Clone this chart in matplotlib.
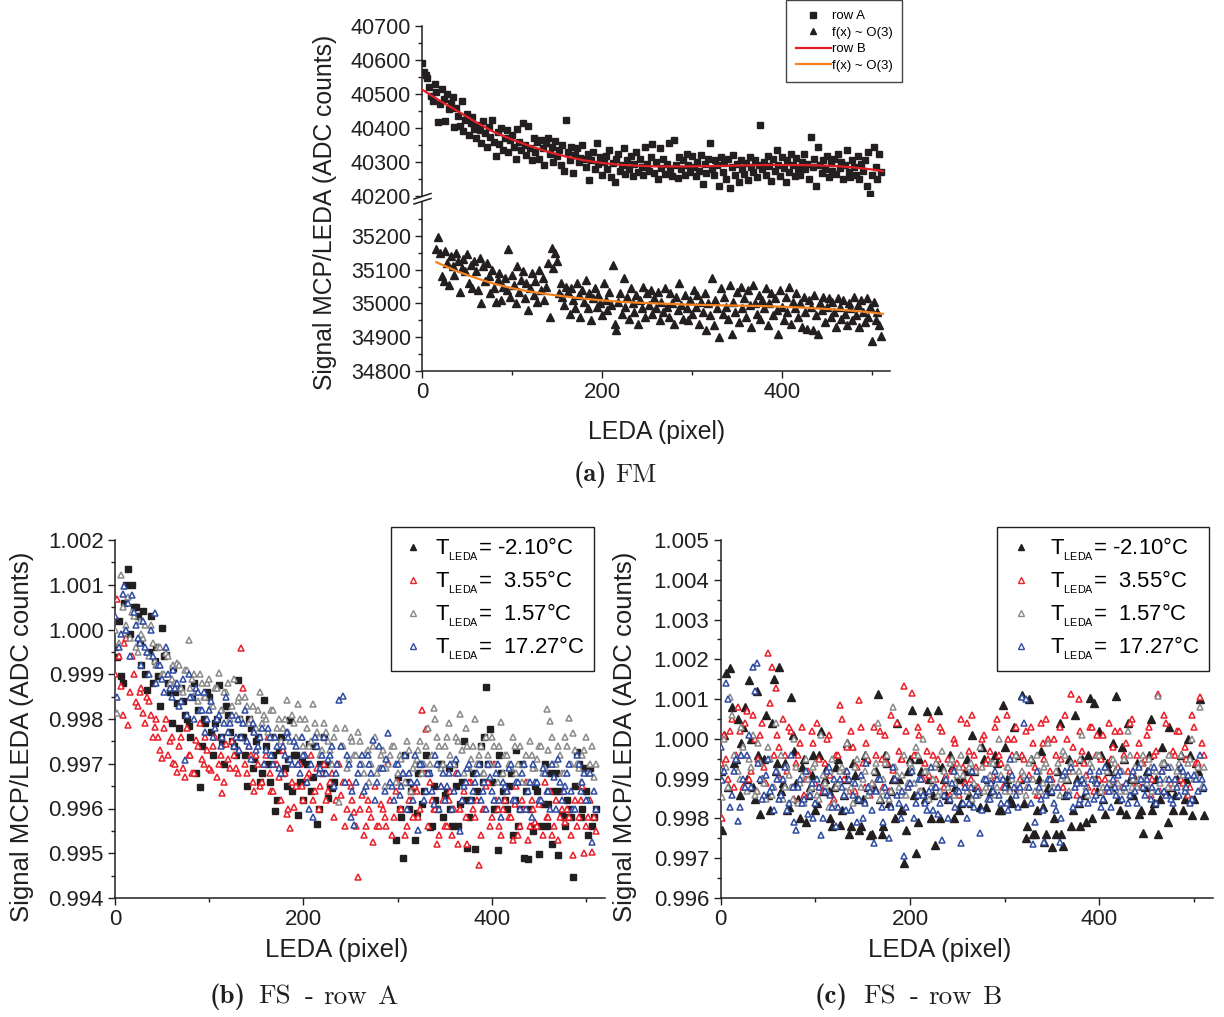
import numpy as np
import matplotlib
matplotlib.use('Agg')
import matplotlib.pyplot as plt
from matplotlib.lines import Line2D
from matplotlib.ticker import MultipleLocator, FixedLocator, FormatStrFormatter

plt.rcParams['font.family'] = ['Liberation Sans', 'DejaVu Sans']
plt.rcParams['mathtext.fontset'] = 'custom'
plt.rcParams['mathtext.rm'] = 'Liberation Sans'
plt.rcParams['mathtext.it'] = 'Liberation Sans:italic'
plt.rcParams['mathtext.bf'] = 'Liberation Sans:bold'

# ---------------- data: panel (a) FM ----------------
x_row_a = np.arange(0, 512, 2)
row_a = [
    40590, 40565, 40555, 40548, 40520, 40495, 40480, 40530, 40505, 40418,
    40470, 40515, 40485, 40420, 40500, 40455, 40475, 40490, 40402, 40460,
    40435, 40405, 40478, 40390, 40425, 40440, 40380, 40415, 40432, 40398,
    40370, 40410, 40395, 40355, 40420, 40385, 40345, 40402, 40375, 40425,
    40360, 40318, 40388, 40352, 40400, 40335, 40372, 40395, 40330, 40365,
    40380, 40345, 40310, 40398, 40360, 40335, 40415, 40350, 40322, 40405,
    40340, 40305, 40372, 40330, 40358, 40310, 40365, 40340, 40290, 40355,
    40370, 40325, 40345, 40300, 40362, 40318, 40335, 40290, 40350, 40275,
    40425, 40330, 40305, 40345, 40268, 40322, 40340, 40300, 40312, 40350,
    40310, 40285, 40325, 40248, 40305, 40330, 40278, 40355, 40295, 40315,
    40262, 40300, 40318, 40280, 40335, 40255, 40298, 40240, 40310, 40325,
    40275, 40292, 40340, 40265, 40305, 40280, 40318, 40258, 40295, 40330,
    40270, 40310, 40285, 40262, 40345, 40295, 40275, 40315, 40352, 40268,
    40300, 40250, 40340, 40282, 40310, 40265, 40295, 40355, 40278, 40260,
    40365, 40290, 40252, 40315, 40280, 40305, 40262, 40325, 40290, 40272,
    40318, 40285, 40258, 40300, 40275, 40320, 40235, 40295, 40268, 40310,
    40355, 40280, 40262, 40305, 40290, 40228, 40315, 40272, 40298, 40250,
    40310, 40225, 40285, 40320, 40262, 40295, 40240, 40305, 40278, 40265,
    40298, 40248, 40315, 40285, 40270, 40305, 40255, 40290, 40410, 40280,
    40300, 40262, 40318, 40288, 40245, 40310, 40275, 40335, 40292, 40260,
    40315, 40282, 40240, 40305, 40270, 40325, 40290, 40258, 40312, 40280,
    40262, 40300, 40325, 40278, 40295, 40250, 40375, 40285, 40310, 40230,
    40345, 40290, 40268, 40305, 40280, 40318, 40255, 40298, 40275, 40310,
    40265, 40325, 40282, 40300, 40250, 40290, 40335, 40270, 40255, 40305,
    40285, 40262, 40318, 40250, 40295, 40275, 40305, 40230, 40328, 40205,
    40262, 40345, 40285, 40250, 40325, 40270,
]
x_row_b = np.arange(16, 512, 2)
row_b = [
    35160, 35195, 35150, 35080, 35065, 35155, 35120, 35055, 35140, 35110,
    35085, 35150, 35125, 35035, 35105, 35130, 35095, 35145, 35060, 35115,
    35045, 35125, 35095, 35040, 35135, 35000, 35110, 35065, 35120, 35080,
    35030, 35100, 35045, 35005, 35070, 35090, 35010, 35050, 35075, 35040,
    35160, 35020, 35085, 35055, 35000, 35110, 35035, 35070, 35095, 35015,
    35060, 34980, 35045, 35090, 35025, 35065, 35005, 35100, 35040, 35075,
    35010, 35050, 35120, 34960, 35165, 35105, 35150, 35125, 35030, 35060,
    35020, 34995, 35050, 35035, 34970, 35045, 35010, 34985, 35060, 35025,
    34960, 35040, 35005, 35070, 34985, 35030, 34950, 35015, 35045, 34990,
    35025, 35000, 34965, 35060, 35010, 34980, 35035, 34995, 35115, 34940,
    34920, 35005, 35030, 34970, 35075, 34990, 35020, 34955, 35045, 35000,
    34975, 35025, 34940, 35010, 34985, 35050, 34960, 35030, 34995, 35040,
    34970, 35015, 34985, 35035, 34950, 35005, 34975, 35045, 34990, 34960,
    35030, 35000, 34940, 35020, 34980, 35060, 34995, 34955, 35025, 34985,
    34950, 35010, 34970, 35040, 34990, 35025, 34940, 35005, 34975, 35030,
    34920, 35000, 34965, 35075, 34935, 35010, 34985, 34900, 35045, 34970,
    35020, 34990, 34955, 35055, 34910, 35005, 34975, 35035, 34945, 35050,
    34985, 35015, 34960, 35040, 34995, 34930, 35055, 35000, 34970, 35025,
    34955, 35010, 34985, 35045, 34935, 35000, 35030, 34965, 35015, 34980,
    34910, 35040, 34990, 34950, 35020, 34975, 35050, 34940, 35005, 34985,
    35030, 34960, 35000, 34930, 35020, 34975, 34925, 35010, 34990, 34920,
    35025, 34965, 34910, 35000, 34980, 35020, 34945, 34990, 35015, 34960,
    35005, 34975, 34930, 35015, 34990, 34955, 35010, 34970, 34935, 35000,
    34985, 34950, 35020, 34965, 34995, 34930, 35010, 34975, 34945, 35015,
    34960, 34990, 34890, 35005, 34950, 34975, 34935, 34905,
]
fit_a_x = [0, 20, 40, 60, 80, 100, 120, 140, 160, 180, 200, 220, 240, 260,
           280, 300, 320, 340, 360, 380, 400, 420, 440, 460, 480, 500, 512]
fit_a_y = [40513, 40480, 40449, 40417, 40388, 40366, 40347, 40330, 40316,
           40305, 40297, 40292, 40289, 40287, 40287, 40287, 40288, 40289,
           40290, 40291, 40291, 40291, 40290, 40288, 40284, 40278, 40273]
fit_b_x = [16, 20, 40, 60, 80, 100, 120, 140, 160, 180, 200, 220, 240, 260,
           280, 300, 320, 340, 360, 380, 400, 420, 440, 460, 480, 500, 512]
fit_b_y = [35122, 35117, 35094, 35075, 35058, 35045, 35035, 35027, 35020,
           35014, 35009, 35005, 35002, 35000, 34998, 34996, 34995, 34994,
           34993, 34992, 34990, 34988, 34985, 34982, 34978, 34973, 34969]

# ---------------- data: panels (b) and (c) ----------------
# each temperature series is read in two interleaved sets of pixels
x_fs_odd = np.arange(2, 512, 4)    # pixels 2, 6, 10, ...
x_fs_even = np.arange(0, 512, 4)   # pixels 0, 4, 8, ...
nan = np.nan

# panel (b): FS - row A
fsA_m210_odd = [
    0.99939, 0.99896, 1.00060, 1.00135, 1.00100, 1.00050, 0.99975, 1.00041,
    0.99865, 1.00030, 0.99930, 0.99895, 1.00003, 0.99943, 0.99860, 0.99914,
    0.99835, 0.99870, 0.99810, 0.99785, 0.99850, 0.99679, 0.99648, 0.99800,
    0.99860, 0.99770, 0.99790, 0.99876, 0.99745, 0.99830, 0.99770, 0.99740,
    0.99887, 0.99760, 0.99720, 0.99800, 0.99690, 0.99750, 0.99660, 0.99842,
    0.99700, 0.99760, 0.99594, 0.99730, 0.99680, 0.99650, 0.99798, 0.99720,
    0.99585, 0.99705, 0.99660, 0.99745, 0.99670, 0.99565, 0.99700, 0.99760,
    0.99623, 0.99646, nan, nan, nan, nan, nan, nan,
    nan, nan, nan, nan, nan, nan, nan, nan,
    nan, nan, 0.99530, 0.99600, 0.99489, 0.99660, 0.99640, 0.99530,
    0.99680, 0.99610, 0.99720, 0.99559, 0.99650, 0.99600, 0.99700, 0.99630,
    0.99690, 0.99560, 0.99650, 0.99610, 0.99750, 0.99512, 0.99620, 0.99510,
    0.99700, 0.99660, 0.99871, 0.99778, 0.99600, 0.99507, 0.99680, 0.99620,
    0.99650, 0.99540, 0.99730, 0.99600, 0.99489, 0.99487, 0.99560, 0.99650,
    0.99498, 0.99610, 0.99560, 0.99680, 0.99640, 0.99497, 0.99590, 0.99560,
    0.99600, 0.99447, 0.99726, 0.99580, 0.99690, 0.99540, 0.99560, 0.99600,
]
fsA_m210_even = [
    0.99960, 1.00020, 0.99880, 1.00100, 0.99990, 1.00050, 1.00030, 0.99920,
    0.99900, 0.99950, 0.99880, 0.99960, 0.99830, 0.99940, 0.99880, 0.99790,
    0.99860, 0.99780, 0.99840, 0.99800, 0.99760, 0.99880, 0.99820, 0.99740,
    0.99790, 0.99850, 0.99720, 0.99800, 0.99760, 0.99700, 0.99810, 0.99750,
    0.99720, 0.99800, 0.99760, 0.99650, 0.99780, 0.99710, 0.99760, 0.99680,
    0.99740, 0.99660, 0.99720, 0.99620, 0.99760, 0.99690, 0.99710, 0.99640,
    0.99720, 0.99660, 0.99620, 0.99700, 0.99640, 0.99740, 0.99600, 0.99680,
    0.99700, 0.99650, 0.99660, nan, nan, nan, nan, nan,
    nan, nan, nan, nan, nan, nan, nan, nan,
    nan, nan, nan, 0.99670, 0.99580, 0.99720, 0.99600, 0.99650,
    0.99590, 0.99700, 0.99640, 0.99680, 0.99560, 0.99620, 0.99700, 0.99580,
    0.99640, 0.99600, 0.99700, 0.99560, 0.99660, 0.99620, 0.99580, 0.99680,
    0.99640, 0.99740, 0.99760, 0.99700, 0.99660, 0.99600, 0.99720, 0.99640,
    0.99600, 0.99680, 0.99620, 0.99560, 0.99700, 0.99640, 0.99600, 0.99550,
    0.99640, 0.99560, 0.99700, 0.99610, 0.99520, 0.99680, 0.99640, 0.99580,
    0.99620, 0.99580, 0.99650, 0.99700, 0.99600, 0.99640, 0.99690, 0.99580,
]
fsA_355_odd = [
    1.00068, 0.99874, 0.99970, 0.99787, 0.99940, 0.99838, 0.99860, 0.99813,
    0.99850, 0.99810, 0.99782, 0.99760, 0.99713, 0.99800, 0.99750, 0.99702,
    0.99682, 0.99760, 0.99670, 0.99720, 0.99680, 0.99753, 0.99790, 0.99700,
    0.99730, 0.99686, 0.99760, 0.99700, 0.99635, 0.99745, 0.99690, 0.99720,
    0.99680, 0.99959, 0.99700, 0.99740, 0.99660, 0.99720, 0.99650, 0.99700,
    0.99760, 0.99640, 0.99700, 0.99670, 0.99730, 0.99588, 0.99556, 0.99603,
    0.99700, 0.99650, 0.99720, 0.99680, 0.99620, 0.99690, 0.99650, 0.99700,
    0.99640, 0.99680, 0.99620, 0.99700, 0.99660, 0.99600, 0.99650, 0.99592,
    0.99447, 0.99630, 0.99560, 0.99600, 0.99525, 0.99560, 0.99610, 0.99580,
    0.99704, 0.99540, 0.99640, 0.99600, 0.99680, 0.99560, 0.99620, 0.99650,
    0.99580, 0.99820, 0.99778, 0.99660, 0.99600, 0.99520, 0.99650, 0.99560,
    0.99620, 0.99540, 0.99680, 0.99600, 0.99640, 0.99520, 0.99660, 0.99580,
    0.99474, 0.99600, 0.99650, 0.99560, 0.99700, 0.99600, 0.99540, 0.99620,
    0.99580, 0.99530, 0.99650, 0.99560, 0.99600, 0.99530, 0.99620, 0.99570,
    0.99610, 0.99540, 0.99580, 0.99640, 0.99560, 0.99530, 0.99600, 0.99570,
    0.99580, 0.99496, 0.99560, 0.99620, 0.99500, 0.99580, 0.99503, 0.99550,
]
fsA_355_even = [
    0.99900, 0.99940, 0.99810, 0.99980, 0.99860, 0.99900, 0.99830, 0.99870,
    0.99790, 0.99840, 0.99760, 0.99800, 0.99730, 0.99780, 0.99720, 0.99760,
    0.99700, 0.99740, 0.99690, 0.99780, 0.99720, 0.99680, 0.99740, 0.99710,
    0.99760, 0.99690, 0.99740, 0.99670, 0.99720, 0.99660, 0.99710, 0.99750,
    0.99690, 0.99730, 0.99870, 0.99680, 0.99720, 0.99640, 0.99700, 0.99660,
    0.99720, 0.99680, 0.99640, 0.99700, 0.99620, 0.99680, 0.99600, 0.99660,
    0.99650, 0.99700, 0.99620, 0.99670, 0.99720, 0.99640, 0.99600, 0.99680,
    0.99620, 0.99660, 0.99580, 0.99700, 0.99630, 0.99560, 0.99660, 0.99620,
    0.99560, 0.99600, 0.99540, 0.99620, 0.99580, 0.99650, 0.99560, 0.99600,
    0.99560, 0.99620, 0.99580, 0.99660, 0.99600, 0.99540, 0.99620, 0.99580,
    0.99640, 0.99600, 0.99680, 0.99560, 0.99620, 0.99600, 0.99540, 0.99620,
    0.99560, 0.99640, 0.99600, 0.99520, 0.99620, 0.99580, 0.99660, 0.99600,
    0.99620, 0.99540, 0.99600, 0.99660, 0.99580, 0.99620, 0.99560, 0.99600,
    0.99640, 0.99580, 0.99610, 0.99540, 0.99620, 0.99660, 0.99560, 0.99600,
    0.99560, 0.99620, 0.99660, 0.99580, 0.99540, 0.99620, 0.99580, 0.99640,
    0.99600, 0.99540, 0.99620, 0.99580, 0.99650, 0.99560, 0.99620, 0.99580,
]
fsA_157_odd = [
    0.99813, 1.00122, 0.99992, 1.00073, 1.00040, 0.99960, 1.00020, 0.99980,
    0.99950, 1.00010, 0.99930, 0.99960, 0.99900, 0.99948, 0.99880, 0.99920,
    0.99925, 0.99870, 0.99910, 0.99977, 0.99890, 0.99860, 0.99900, 0.99850,
    0.99880, 0.99830, 0.99870, 0.99903, 0.99820, 0.99860, 0.99800, 0.99890,
    0.99840, 0.99800, 0.99850, 0.99790, 0.99830, 0.99780, 0.99860, 0.99810,
    0.99770, 0.99820, 0.99760, 0.99800, 0.99780, 0.99842, 0.99750, 0.99790,
    0.99833, 0.99760, 0.99800, 0.99740, 0.99833, 0.99770, 0.99720, 0.99790,
    0.99750, 0.99700, 0.99780, 0.99614, 0.99740, 0.99690, 0.99760, 0.99720,
    0.99771, 0.99700, 0.99723, 0.99660, 0.99740, 0.99680, 0.99720, 0.99650,
    0.99700, 0.99740, 0.99660, 0.99720, 0.99680, 0.99750, 0.99640, 0.99700,
    0.99730, 0.99680, 0.99740, 0.99700, 0.99824, 0.99760, 0.99690, 0.99740,
    0.99791, 0.99700, 0.99760, 0.99811, 0.99680, 0.99740, 0.99710, 0.99800,
    0.99720, 0.99680, 0.99760, 0.99700, 0.99740, 0.99660, 0.99794, 0.99720,
    0.99700, 0.99760, 0.99680, 0.99740, 0.99700, 0.99660, 0.99720, 0.99690,
    0.99740, 0.99680, 0.99822, 0.99795, 0.99700, 0.99740, 0.99680, 0.99760,
    0.99802, 0.99769, 0.99700, 0.99660, 0.99730, 0.99680, 0.99740, 0.99700,
]
fsA_157_even = [
    1.00000, 0.99970, 1.00050, 1.00010, 0.99980, 1.00030, 0.99950, 0.99990,
    1.00010, 0.99940, 0.99970, 0.99920, 0.99960, 0.99900, 0.99940, 0.99890,
    0.99880, 0.99920, 0.99860, 0.99910, 0.99870, 0.99900, 0.99840, 0.99880,
    0.99850, 0.99890, 0.99830, 0.99870, 0.99820, 0.99860, 0.99880, 0.99830,
    0.99810, 0.99850, 0.99790, 0.99830, 0.99800, 0.99770, 0.99820, 0.99790,
    0.99800, 0.99760, 0.99820, 0.99780, 0.99750, 0.99800, 0.99770, 0.99810,
    0.99760, 0.99800, 0.99740, 0.99780, 0.99750, 0.99790, 0.99760, 0.99730,
    0.99770, 0.99730, 0.99760, 0.99700, 0.99740, 0.99780, 0.99710, 0.99750,
    0.99720, 0.99750, 0.99680, 0.99730, 0.99700, 0.99760, 0.99690, 0.99730,
    0.99690, 0.99720, 0.99740, 0.99680, 0.99710, 0.99660, 0.99730, 0.99690,
    0.99710, 0.99750, 0.99700, 0.99780, 0.99720, 0.99800, 0.99740, 0.99700,
    0.99760, 0.99720, 0.99700, 0.99750, 0.99730, 0.99780, 0.99690, 0.99740,
    0.99700, 0.99740, 0.99680, 0.99720, 0.99760, 0.99700, 0.99740, 0.99680,
    0.99720, 0.99690, 0.99740, 0.99700, 0.99660, 0.99720, 0.99750, 0.99690,
    0.99710, 0.99740, 0.99690, 0.99730, 0.99760, 0.99700, 0.99720, 0.99680,
    0.99740, 0.99700, 0.99730, 0.99690, 0.99720, 0.99760, 0.99700, 0.99670,
]
fsA_1727_odd = [
    0.99849, 0.99990, 1.00097, 1.00060, 1.00077, 1.00010, 0.99970, 1.00020,
    0.99950, 1.00000, 1.00037, 0.99920, 0.99890, 0.99960, 0.99870, 0.99910,
    0.99880, 0.99840, 0.99708, 0.99900, 0.99850, 0.99870, 0.99820, 0.99860,
    0.99800, 0.99840, 0.99780, 0.99810, 0.99760, 0.99850, 0.99790, 0.99740,
    0.99800, 0.99760, 0.99820, 0.99740, 0.99790, 0.99730, 0.99760, 0.99700,
    0.99780, 0.99720, 0.99760, 0.99690, 0.99740, 0.99770, 0.99710, 0.99750,
    0.99700, 0.99760, 0.99720, 0.99600, 0.99581, 0.99740, 0.99690, 0.99760,
    0.99710, 0.99740, 0.99680, 0.99843, 0.99851, 0.99720, 0.99580, 0.99563,
    0.99680, 0.99720, 0.99650, 0.99700, 0.99753, 0.99660, 0.99690, 0.99640,
    0.99769, 0.99650, 0.99700, 0.99630, 0.99680, 0.99600, 0.99660, 0.99720,
    0.99552, 0.99700, 0.99640, 0.99680, 0.99610, 0.99700, 0.99650, 0.99620,
    0.99680, 0.99600, 0.99710, 0.99550, 0.99650, 0.99690, 0.99620, 0.99660,
    0.99700, 0.99640, 0.99600, 0.99670, 0.99620, 0.99700, 0.99580, 0.99650,
    0.99690, 0.99620, 0.99660, 0.99600, 0.99700, 0.99640, 0.99580, 0.99660,
    0.99620, 0.99690, 0.99640, 0.99600, 0.99670, 0.99710, 0.99620, 0.99650,
    0.99700, 0.99600, 0.99720, 0.99640, 0.99680, 0.99620, 0.99525, 0.99600,
]
fsA_1727_even = [
    1.00030, 0.99960, 1.00080, 1.00000, 0.99940, 1.00040, 0.99980, 0.99920,
    0.99960, 0.99900, 0.99940, 0.99880, 0.99920, 0.99860, 0.99900, 0.99850,
    0.99870, 0.99830, 0.99890, 0.99810, 0.99850, 0.99800, 0.99860, 0.99820,
    0.99770, 0.99820, 0.99760, 0.99800, 0.99740, 0.99790, 0.99770, 0.99810,
    0.99760, 0.99730, 0.99790, 0.99750, 0.99710, 0.99770, 0.99740, 0.99780,
    0.99730, 0.99760, 0.99700, 0.99740, 0.99680, 0.99720, 0.99760, 0.99700,
    0.99740, 0.99680, 0.99720, 0.99660, 0.99700, 0.99760, 0.99680, 0.99720,
    0.99680, 0.99720, 0.99650, 0.99700, 0.99740, 0.99660, 0.99700, 0.99640,
    0.99660, 0.99700, 0.99640, 0.99720, 0.99680, 0.99620, 0.99740, 0.99690,
    0.99710, 0.99660, 0.99620, 0.99700, 0.99650, 0.99720, 0.99680, 0.99620,
    0.99660, 0.99700, 0.99620, 0.99680, 0.99640, 0.99720, 0.99600, 0.99680,
    0.99650, 0.99700, 0.99640, 0.99680, 0.99620, 0.99660, 0.99700, 0.99640,
    0.99680, 0.99620, 0.99660, 0.99700, 0.99640, 0.99680, 0.99620, 0.99660,
    0.99640, 0.99700, 0.99620, 0.99660, 0.99680, 0.99600, 0.99660, 0.99700,
    0.99660, 0.99620, 0.99680, 0.99640, 0.99700, 0.99600, 0.99660, 0.99640,
    0.99680, 0.99640, 0.99600, 0.99700, 0.99660, 0.99620, 0.99680, 0.99640,
]

# panel (c): FS - row B
fsB_m210_odd = [
    0.99771, 1.00165, 1.00178, 0.99940, 1.00050, 0.99990, 1.00080, 1.00148,
    0.99880, 1.00120, 0.99811, 0.99950, 0.99860, 1.00040, 0.99920, 1.00181,
    0.99890, 0.99820, 1.00105, 0.99970, 0.99850, 0.99930, 0.99791, 0.99880,
    0.99960, 0.99840, 1.00020, 0.99900, 0.99870, 0.99780, 0.99930, 0.99784,
    0.99860, 0.99990, 0.99780, 0.99910, 0.99770, 0.99850, 0.99950, 0.99758,
    0.99880, 1.00113, 0.99760, 0.99960, 0.99840, 0.99900, 1.00040, 0.99820,
    0.99688, 0.99920, 1.00073, 0.99713, 0.99950, 0.99870, 1.00070, 0.99800,
    0.99733, 1.00073, 0.99930, 0.99860, 0.99960, 0.99800, 0.99900, 0.99840,
    0.99920, 0.99860, 1.00010, 0.99880, 0.99830, 0.99950, 0.99900, 0.99870,
    0.99960, 0.99820, 1.00085, 0.99900, 0.99850, 1.00030, 0.99880, 1.00110,
    0.99750, 1.00100, 0.99760, 0.99820, 0.99970, 0.99740, 0.99880, 0.99728,
    0.99760, 1.00040, 0.99730, 0.99900, 0.99780, 1.00060, 0.99840, 0.99950,
    0.99790, 1.00103, 1.00090, 0.99870, 0.99960, 0.99810, 0.99920, 0.99990,
    1.00108, 0.99820, 0.99950, 1.00040, 0.99860, 0.99900, 0.99810, 0.99763,
    0.99920, 1.00050, 0.99840, 0.99760, 0.99980, 0.99870, 1.00030, 0.99820,
    0.99900, 0.99960, 0.99850, 1.00000, 0.99809, 0.99940, 1.00100, 0.99809,
]
fsB_m210_even = [
    0.99920, 1.00010, 0.99880, 1.00080, 0.99950, 0.99860, 1.00030, 0.99900,
    1.00000, 0.99850, 0.99960, 0.99900, 1.00060, 0.99820, 1.00150, 0.99940,
    0.99870, 0.99940, 0.99830, 1.00010, 0.99890, 0.99800, 0.99950, 0.99860,
    0.99910, 0.99820, 0.99960, 0.99870, 0.99930, 0.99800, 0.99880, 0.99950,
    0.99820, 0.99900, 0.99760, 0.99940, 0.99850, 0.99780, 0.99960, 0.99880,
    0.99760, 0.99920, 0.99850, 0.99780, 0.99940, 0.99870, 0.99800, 0.99900,
    0.99820, 0.99770, 0.99950, 0.99860, 0.99790, 0.99920, 0.99850, 0.99900,
    0.99860, 0.99940, 0.99800, 0.99900, 0.99850, 0.99930, 0.99880, 0.99820,
    0.99900, 0.99950, 0.99840, 0.99920, 0.99870, 0.99980, 0.99830, 0.99900,
    0.99870, 0.99940, 0.99820, 0.99980, 0.99880, 0.99840, 0.99960, 0.99900,
    0.99840, 0.99780, 0.99950, 0.99760, 0.99900, 0.99830, 0.99760, 0.99870,
    0.99800, 0.99920, 0.99760, 0.99860, 0.99950, 0.99820, 0.99900, 0.99780,
    0.99860, 0.99960, 0.99800, 0.99900, 1.00020, 0.99850, 0.99940, 0.99880,
    0.99920, 0.99850, 0.99980, 0.99810, 0.99900, 0.99860, 0.99940, 0.99820,
    0.99880, 0.99960, 0.99820, 0.99900, 0.99850, 0.99940, 0.99790, 0.99880,
    0.99860, 0.99930, 0.99820, 0.99900, 0.99960, 0.99850, 0.99920, 0.99880,
]
fsB_355_odd = [
    0.99801, 0.99950, 1.00020, 0.99880, 1.00080, 0.99960, 1.00040, 0.99900,
    1.00060, 0.99870, 1.00010, 0.99930, 1.00216, 1.00180, 1.00128, 0.99980,
    1.00050, 0.99920, 1.00020, 0.99850, 0.99960, 1.00030, 0.99900, 0.99860,
    0.99990, 1.00040, 0.99880, 0.99940, 1.00010, 0.99840, 0.99960, 1.00085,
    0.99900, 0.99980, 1.00020, 0.99870, 1.00098, 0.99940, 0.99990, 0.99860,
    1.00030, 0.99900, 0.99950, 1.00010, 0.99870, 0.99922, 1.00040, 0.99950,
    1.00133, 0.99880, 1.00115, 0.99960, 1.00010, 0.99900, 0.99970, 1.00050,
    0.99880, 0.99950, 1.00020, 0.99910, 0.99860, 1.00000, 0.99940, 1.00050,
    0.99890, 0.99970, 1.00060, 0.99930, 0.99870, 1.00010, 0.99950, 0.99900,
    1.00030, 0.99960, 0.99880, 1.00060, 0.99920, 1.00000, 0.99870, 0.99960,
    1.00020, 0.99910, 0.99990, 0.99860, 1.00040, 0.99950, 1.00000, 0.99900,
    0.99960, 1.00030, 0.99880, 1.00000, 1.00113, 0.99940, 1.00100, 0.99970,
    0.99910, 1.00030, 0.99870, 1.00010, 0.99950, 0.99900, 1.00040, 0.99980,
    0.99890, 1.00020, 0.99960, 0.99920, 1.00050, 0.99880, 0.99990, 0.99940,
    1.00010, 0.99860, 0.99960, 1.00113, 0.99920, 1.00040, 0.99880, 0.99970,
    1.00020, 0.99900, 0.99980, 0.99860, 1.00060, 0.99940, 1.00106, 0.99960,
]
fsB_355_even = [
    0.99940, 1.00010, 0.99900, 1.00050, 0.99960, 1.00020, 0.99880, 1.00070,
    0.99920, 1.00000, 0.99950, 1.00040, 0.99890, 1.00090, 0.99960, 1.00010,
    0.99900, 0.99960, 1.00030, 0.99880, 0.99940, 0.99990, 0.99860, 0.99920,
    1.00020, 0.99890, 0.99950, 0.99870, 1.00000, 0.99910, 0.99850, 0.99960,
    1.00050, 0.99920, 0.99870, 0.99980, 0.99930, 1.00030, 0.99880, 0.99950,
    0.99890, 0.99960, 1.00020, 0.99880, 0.99940, 1.00060, 0.99900, 0.99970,
    0.99950, 1.00020, 0.99890, 0.99960, 1.00030, 0.99870, 0.99940, 0.99910,
    0.99960, 0.99900, 1.00030, 0.99880, 0.99950, 0.99920, 0.99990, 0.99860,
    0.99930, 1.00040, 0.99900, 0.99960, 0.99880, 1.00000, 0.99940, 0.99970,
    0.99910, 1.00050, 0.99940, 0.99880, 1.00000, 0.99960, 1.00030, 0.99900,
    0.99950, 0.99880, 1.00030, 0.99930, 0.99860, 0.99990, 1.00050, 0.99920,
    1.00000, 0.99880, 0.99950, 1.00060, 0.99920, 0.99980, 0.99860, 1.00020,
    0.99940, 0.99880, 1.00030, 0.99960, 0.99900, 1.00010, 0.99870, 0.99950,
    1.00020, 0.99930, 0.99880, 0.99990, 1.00040, 0.99910, 0.99960, 0.99880,
    0.99950, 1.00030, 0.99900, 0.99970, 0.99870, 1.00060, 0.99930, 0.99890,
    0.99960, 1.00020, 0.99890, 0.99950, 0.99880, 1.00030, 0.99940, 0.99990,
]
fsB_157_odd = [
    0.99854, 0.99930, 1.00105, 0.99960, 0.99920, 1.00030, 0.99880, 0.99950,
    1.00010, 0.99870, 0.99940, 0.99890, 0.99980, 0.99860, 1.00040, 0.99900,
    0.99850, 0.99930, 0.99880, 1.00000, 0.99840, 0.99910, 0.99950, 0.99870,
    0.99930, 0.99860, 1.00010, 0.99890, 0.99830, 0.99950, 0.99880, 0.99920,
    0.99860, 0.99990, 0.99880, 0.99930, 0.99850, 0.99900, 0.99960, 0.99880,
    0.99920, 1.00040, 0.99870, 0.99940, 0.99850, 1.00080, 0.99910, 0.99860,
    0.99960, 0.99890, 0.99930, 0.99980, 0.99870, 1.00000, 0.99920, 0.99880,
    0.99930, 0.99860, 0.99970, 0.99900, 0.99940, 0.99860, 0.99910, 0.99960,
    0.99880, 0.99930, 0.99850, 0.99920, 0.99980, 0.99870, 0.99900, 0.99940,
    0.99860, 1.00000, 0.99900, 0.99930, 0.99870, 0.99950, 0.99890, 0.99920,
    0.99860, 0.99940, 0.99900, 0.99960, 0.99870, 0.99930, 0.99990, 0.99880,
    0.99920, 0.99860, 0.99970, 0.99900, 0.99940, 0.99880, 0.99920, 1.00010,
    0.99880, 0.99940, 0.99900, 0.99960, 0.99870, 0.99930, 0.99890, 0.99950,
    0.99920, 0.99870, 0.99950, 1.00020, 0.99880, 0.99930, 0.99900, 0.99960,
    0.99890, 0.99930, 0.99870, 1.00108, 0.99940, 0.99900, 0.99960, 0.99880,
    0.99920, 0.99960, 0.99880, 0.99940, 1.00000, 0.99910, 1.00080, 0.99930,
]
fsB_157_even = [
    0.99920, 1.00000, 0.99880, 1.00060, 0.99950, 0.99900, 0.99980, 0.99870,
    0.99930, 0.99860, 0.99990, 0.99900, 0.99850, 0.99950, 0.99880, 0.99920,
    0.99960, 0.99880, 0.99910, 0.99850, 0.99930, 0.99890, 0.99840, 0.99900,
    0.99880, 0.99940, 0.99850, 0.99910, 0.99870, 0.99920, 0.99840, 0.99890,
    0.99930, 0.99870, 0.99900, 0.99840, 0.99950, 0.99880, 0.99920, 0.99860,
    0.99890, 0.99940, 0.99850, 0.99900, 0.99960, 0.99870, 0.99930, 0.99880,
    0.99910, 0.99860, 0.99940, 0.99890, 0.99960, 0.99870, 0.99920, 0.99850,
    0.99900, 0.99940, 0.99870, 0.99920, 0.99880, 0.99950, 0.99890, 0.99930,
    0.99910, 0.99870, 0.99940, 0.99890, 0.99860, 0.99930, 0.99880, 0.99910,
    0.99940, 0.99880, 0.99910, 0.99870, 0.99930, 0.99900, 0.99960, 0.99870,
    0.99910, 0.99880, 0.99950, 0.99870, 0.99920, 0.99890, 0.99940, 0.99900,
    0.99880, 0.99940, 0.99900, 0.99960, 0.99870, 0.99920, 0.99890, 0.99950,
    0.99900, 0.99860, 0.99930, 0.99890, 0.99960, 0.99880, 0.99920, 0.99870,
    0.99940, 0.99890, 0.99920, 0.99870, 0.99960, 0.99900, 0.99880, 0.99940,
    0.99900, 0.99950, 0.99870, 0.99920, 0.99890, 0.99940, 0.99880, 0.99930,
    0.99890, 0.99940, 0.99910, 0.99870, 0.99950, 0.99900, 0.99930, 0.99880,
]
fsB_1727_odd = [
    0.99897, 1.00140, 0.99830, 0.99920, 0.99794, 0.99960, 0.99880, 1.00010,
    1.00180, 1.00190, 0.99900, 0.99860, 0.99950, 0.99880, 0.99920, 0.99850,
    0.99900, 0.99820, 0.99960, 0.99790, 0.99880, 0.99840, 0.99920, 0.99860,
    0.99800, 0.99900, 0.99758, 0.99870, 0.99930, 0.99830, 0.99780, 0.99900,
    0.99860, 0.99920, 0.99820, 0.99890, 0.99850, 0.99800, 0.99940, 0.99870,
    0.99739, 0.99900, 0.99830, 0.99880, 0.99750, 0.99930, 0.99860, 0.99800,
    0.99706, 0.99880, 0.99920, 0.99840, 0.99900, 0.99860, 0.99820, 0.99930,
    0.99880, 0.99810, 0.99746, 0.99900, 0.99850, 0.99920, 0.99870, 0.99739,
    0.99880, 0.99840, 0.99920, 0.99860, 0.99763, 0.99900, 0.99850, 0.99890,
    0.99920, 0.99860, 0.99900, 0.99840, 0.99950, 0.99880, 0.99830, 1.00106,
    1.00100, 0.99880, 0.99736, 0.99920, 0.99850, 0.99740, 0.99900, 0.99870,
    0.99820, 0.99740, 0.99910, 0.99860, 0.99930, 0.99880, 0.99840, 0.99900,
    0.99870, 0.99920, 0.99850, 0.99890, 0.99830, 0.99930, 0.99870, 0.99900,
    0.99860, 0.99920, 0.99880, 0.99840, 0.99910, 0.99870, 0.99930, 0.99880,
    0.99900, 0.99850, 0.99930, 0.99870, 0.99920, 0.99860, 0.99900, 0.99840,
    0.99880, 0.99930, 0.99870, 0.99910, 0.99850, 0.99900, 0.99960, 0.99880,
]
fsB_1727_even = [
    0.99980, 0.99920, 1.00100, 0.99860, 0.99950, 0.99830, 0.99900, 0.99960,
    0.99880, 1.00120, 0.99940, 0.99850, 0.99910, 0.99870, 0.99820, 0.99900,
    0.99860, 0.99930, 0.99840, 0.99880, 0.99770, 0.99900, 0.99850, 0.99810,
    0.99890, 0.99840, 0.99880, 0.99800, 0.99920, 0.99860, 0.99900, 0.99830,
    0.99880, 0.99820, 0.99900, 0.99860, 0.99790, 0.99910, 0.99840, 0.99880,
    0.99820, 0.99870, 0.99900, 0.99790, 0.99860, 0.99830, 0.99900, 0.99840,
    0.99870, 0.99830, 0.99890, 0.99800, 0.99860, 0.99900, 0.99840, 0.99870,
    0.99820, 0.99880, 0.99840, 0.99860, 0.99800, 0.99890, 0.99830, 0.99870,
    0.99840, 0.99800, 0.99880, 0.99830, 0.99870, 0.99820, 0.99900, 0.99850,
    0.99870, 0.99900, 0.99840, 0.99880, 0.99820, 0.99910, 0.99860, 0.99880,
    1.00040, 0.99900, 0.99840, 0.99790, 0.99880, 0.99820, 0.99860, 0.99900,
    0.99840, 0.99880, 0.99800, 0.99920, 0.99860, 0.99830, 0.99890, 0.99850,
    0.99890, 0.99840, 0.99900, 0.99860, 0.99920, 0.99850, 0.99880, 0.99830,
    0.99880, 0.99910, 0.99850, 0.99890, 0.99860, 0.99920, 0.99840, 0.99900,
    0.99860, 0.99920, 0.99880, 0.99840, 0.99900, 0.99870, 0.99930, 0.99850,
    0.99900, 0.99860, 0.99920, 0.99880, 0.99840, 0.99910, 0.99870, 0.99900,
]
temp_labels = [r'T$_{{}_{\mathrm{LEDA}}}$= -2.10°C',
               r'T$_{{}_{\mathrm{LEDA}}}$=  3.55°C',
               r'T$_{{}_{\mathrm{LEDA}}}$=  1.57°C',
               r'T$_{{}_{\mathrm{LEDA}}}$=  17.27°C']

# ---------------- styling ----------------
W, H = 1224, 1017
INK = '#231f20'
RED = '#e8202a'
GRAY = '#8a8a8a'
BLUE = '#2f4ca3'
ORANGE = '#f5821f'
FITRED = '#e41e26'

fig = plt.figure(figsize=(W / 100, H / 100), dpi=100)


def ax_px(l, t, r, b):
    return fig.add_axes([l / W, 1 - b / H, (r - l) / W, (b - t) / H])


def style(ax, fs):
    for s in ['top', 'right']:
        ax.spines[s].set_visible(False)
    for s in ['left', 'bottom']:
        ax.spines[s].set_linewidth(1.1)
        ax.spines[s].set_color(INK)
    ax.tick_params(which='both', direction='out', width=1.0, color=INK)
    ax.tick_params(which='major', length=5, labelsize=fs, pad=3, labelcolor=INK)
    ax.tick_params(which='minor', length=3)


def px2fig(x, y):
    return x / W, 1 - y / H


def both(xa, ya, xb, yb):
    return np.concatenate([xa, xb]), np.concatenate([ya, yb])


# ---------------- panel (a) ----------------
ax_t = ax_px(422, 26, 890, 196)
ax_b = ax_px(422, 202, 890, 371)
for ax in (ax_t, ax_b):
    style(ax, 15.5)
    ax.set_xlim(0, 520)
    ax.patch.set_alpha(0)
ax_t.spines['bottom'].set_visible(False)
ax_t.tick_params(axis='x', which='both', bottom=False, labelbottom=False)
ax_t.set_ylim(40200, 40700)
ax_t.yaxis.set_major_locator(MultipleLocator(100))
ax_t.yaxis.set_minor_locator(MultipleLocator(50))
ax_t.yaxis.set_major_formatter(FormatStrFormatter('%d'))
ax_b.set_ylim(34800, 35300)
ax_b.yaxis.set_major_locator(FixedLocator([34800, 34900, 35000, 35100, 35200]))
ax_b.yaxis.set_minor_locator(FixedLocator([34850, 34950, 35050, 35150, 35250]))
ax_b.yaxis.set_major_formatter(FormatStrFormatter('%d'))
ax_b.xaxis.set_major_locator(MultipleLocator(200))
ax_b.xaxis.set_minor_locator(MultipleLocator(100))
ax_b.tick_params(axis='x', labelsize=16)

ax_t.plot(x_row_a[:len(row_a)], row_a, ls='none', marker='s', ms=4.4,
          color=INK, mec=INK, zorder=2)
ax_t.plot(fit_a_x, fit_a_y, color=FITRED, lw=1.6, zorder=3)
ax_b.plot(x_row_b[:len(row_b)], row_b, ls='none', marker='^', ms=5.4,
          color=INK, mec=INK, zorder=2)
ax_b.plot(fit_b_x, fit_b_y, color=ORANGE, lw=1.6, zorder=3)

# break marks on the y axis
for (x0, y0, x1, y1) in [(414, 199, 431, 193.5), (414, 204, 431, 198.5)]:
    fig.add_artist(Line2D([x0 / W, x1 / W], [1 - y0 / H, 1 - y1 / H],
                          color=INK, lw=1.1))

fig.text(*px2fig(325, 212), 'Signal MCP/LEDA (ADC counts)', rotation=90,
         ha='center', va='center', fontsize=17.8, color=INK)
fig.text(*px2fig(657, 432), 'LEDA (pixel)', ha='center', va='center',
         fontsize=17.8, color=INK)

h_top = [Line2D([], [], ls='none', marker='s', ms=4.3, color=INK),
         Line2D([], [], ls='none', marker='^', ms=5.0, color=INK),
         Line2D([], [], color=FITRED, lw=1.6),
         Line2D([], [], color=ORANGE, lw=1.6)]
lg_top = fig.legend(h_top, ['row A', 'f(x) ~ O(3)', 'row B', 'f(x) ~ O(3)'],
                    loc='upper left', bbox_to_anchor=(786 / W, 1.0),
                    fontsize=9.5, frameon=True, fancybox=False,
                    edgecolor='#444444', framealpha=1, handlelength=2.65,
                    handletextpad=0.05, labelspacing=0.33, borderpad=0.75,
                    borderaxespad=0)
lg_top.get_frame().set_linewidth(1.0)

# ---------------- panels (b), (c) ----------------
ax_B = ax_px(115, 540, 605, 898)
ax_C = ax_px(720.6, 540, 1213, 898)
for ax, lo, hi in [(ax_B, 0.994, 1.002), (ax_C, 0.996, 1.005)]:
    style(ax, 16)
    ax.set_xlim(0, 520)
    ax.set_ylim(lo, hi)
    ax.xaxis.set_major_locator(MultipleLocator(200))
    ax.xaxis.set_minor_locator(MultipleLocator(100))
    ax.yaxis.set_major_locator(MultipleLocator(0.001))
    ax.yaxis.set_minor_locator(MultipleLocator(0.0005))
    ax.yaxis.set_major_formatter(FormatStrFormatter('%.3f'))

open_kw = dict(ls='none', marker='^', ms=4.6, mfc='white', mew=1.1)
# panel (b)
ax_B.plot(*both(x_fs_odd, fsA_m210_odd, x_fs_even, fsA_m210_even),
          ls='none', marker='s', ms=4.8, color=INK, zorder=2)
ax_B.plot(*both(x_fs_odd, fsA_355_odd, x_fs_even, fsA_355_even),
          mec=RED, zorder=3, **open_kw)
ax_B.plot(*both(x_fs_odd, fsA_157_odd, x_fs_even, fsA_157_even),
          mec=GRAY, zorder=3, **open_kw)
ax_B.plot(*both(x_fs_odd, fsA_1727_odd, x_fs_even, fsA_1727_even),
          mec=BLUE, zorder=3, **open_kw)
# panel (c)
ax_C.plot(*both(x_fs_odd, fsB_m210_odd, x_fs_even, fsB_m210_even),
          ls='none', marker='^', ms=5.8, color=INK, zorder=2)
ax_C.plot(*both(x_fs_odd, fsB_355_odd, x_fs_even, fsB_355_even),
          mec=RED, zorder=3, **open_kw)
ax_C.plot(*both(x_fs_odd, fsB_157_odd, x_fs_even, fsB_157_even),
          mec=GRAY, zorder=3, **open_kw)
ax_C.plot(*both(x_fs_odd, fsB_1727_odd, x_fs_even, fsB_1727_even),
          mec=BLUE, zorder=3, **open_kw)


def temp_handles():
    return [Line2D([], [], ls='none', marker='^', ms=4.2, color=INK),
            Line2D([], [], ls='none', marker='^', ms=4.0, mfc='white', mec=RED, mew=1.0),
            Line2D([], [], ls='none', marker='^', ms=4.0, mfc='white', mec=GRAY, mew=1.0),
            Line2D([], [], ls='none', marker='^', ms=4.0, mfc='white', mec=BLUE, mew=1.0)]


for ax, right, hl, htp in [(ax_B, 594, 1.2, 0.42), (ax_C, 1209, 1.42, 0.62)]:
    lg = ax.legend(temp_handles(), temp_labels, loc='upper right',
                   bbox_to_anchor=(right / W, 1 - 527 / H),
                   bbox_transform=fig.transFigure, fontsize=15.9,
                   frameon=True, fancybox=False, edgecolor=INK, framealpha=1,
                   handlelength=hl, handletextpad=htp, labelspacing=0.27,
                   borderpad=0.4, borderaxespad=0)
    lg.get_frame().set_linewidth(1.0)

for xc in (22, 625):
    fig.text(*px2fig(xc, 737), 'Signal MCP/LEDA (ADC counts)', rotation=90,
             ha='center', va='center', fontsize=18.5, color=INK)
for xc in (337, 940):
    fig.text(*px2fig(xc, 950), 'LEDA (pixel)', ha='center', va='center',
             fontsize=18.5, color=INK)

# ---------------- captions ----------------
fig.text(*px2fig(607, 475), '(a)', ha='right', va='center', fontsize=19,
         family='cmb10', color=INK)
fig.text(*px2fig(615, 475), 'FM', ha='left', va='center', fontsize=19,
         family='cmr10', color=INK)
for dx, tag, letter in [(0, '(b)', 'A'), (605, '(c)', 'B')]:
    fig.text(*px2fig(210 + dx, 997), tag, ha='left', va='center',
             fontsize=19.5, family='cmb10', color=INK)
    for xp, word in [(258, 'FS'), (305, '-'), (323, 'row'), (377, letter)]:
        fig.text(*px2fig(xp + dx, 997), word, ha='left', va='center',
                 fontsize=19.5, family='cmr10', color=INK)

fig.savefig('out.png', dpi=100, facecolor='white')
